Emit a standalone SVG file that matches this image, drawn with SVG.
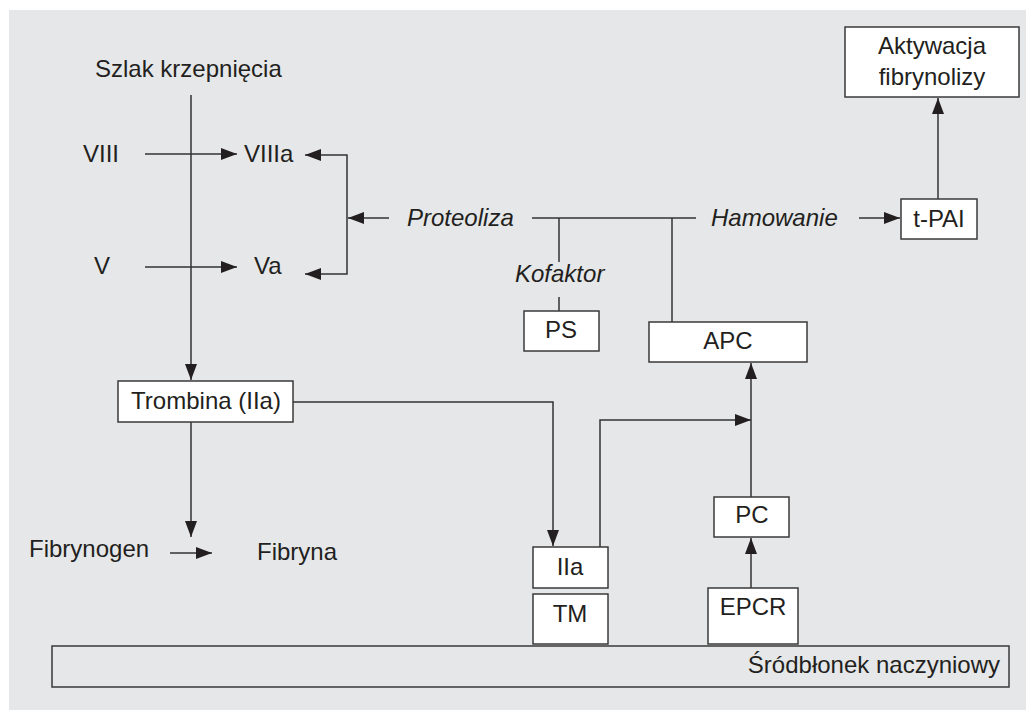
<svg xmlns="http://www.w3.org/2000/svg" width="1026" height="710" viewBox="0 0 1026 710">
<style>
text{font-family:"Liberation Sans",Arial,sans-serif;font-size:24px;fill:#231f20}
.it{font-style:italic}
.m{text-anchor:middle}
.box{fill:#ffffff;stroke:#3a3a3a;stroke-width:1.5}
.ln{fill:none;stroke:#333333;stroke-width:1.5}
.ar{marker-end:url(#ah)}
</style>
<defs>
<marker id="ah" markerUnits="userSpaceOnUse" markerWidth="16" markerHeight="12" refX="16" refY="6" orient="auto">
<path d="M0,0 L16,6 L0,12 Z" fill="#231f20"/>
</marker>
</defs>
<rect x="0" y="0" width="1026" height="710" fill="#ffffff"/>
<rect x="9" y="10" width="1017" height="700" fill="#e6e7e9"/>
<g id="connectors">
<line class="ln ar" x1="191" y1="95" x2="191" y2="380"/>
<line class="ln ar" x1="145" y1="154" x2="237" y2="154"/>
<line class="ln ar" x1="145" y1="267" x2="237" y2="267"/>
<polyline class="ln ar" points="347,218 347,155 305,155"/>
<polyline class="ln ar" points="347,218 347,274 305,274"/>
<line class="ln ar" x1="389" y1="218" x2="348" y2="218"/>
<line class="ln" x1="532" y1="218" x2="696" y2="218"/>
<line class="ln" x1="559" y1="218" x2="559" y2="262"/>
<line class="ln" x1="559" y1="297" x2="559" y2="311"/>
<line class="ln" x1="672" y1="218" x2="672" y2="322"/>
<line class="ln ar" x1="859" y1="218" x2="900" y2="218"/>
<line class="ln ar" x1="938" y1="199" x2="938" y2="98"/>
<polyline class="ln ar" points="293,402 553,402 553,546"/>
<polyline class="ln ar" points="600,547 600,420 751,420"/>
<line class="ln ar" x1="751" y1="497" x2="751" y2="363"/>
<line class="ln ar" x1="751" y1="588" x2="751" y2="538"/>
<line class="ln ar" x1="191" y1="422" x2="191" y2="537"/>
<line class="ln ar" x1="170" y1="553" x2="212" y2="553"/>
</g>
<g id="szlak"><text x="95" y="77">Szlak krzepnięcia</text></g>
<g id="viii"><text x="83" y="162">VIII</text></g>
<g id="viiia"><text x="244" y="162">VIIIa</text></g>
<g id="v"><text x="94" y="274">V</text></g>
<g id="va"><text x="254" y="274">Va</text></g>
<g id="proteoliza"><text class="it" x="407" y="226">Proteoliza</text></g>
<g id="hamowanie"><text class="it" x="711" y="226">Hamowanie</text></g>
<g id="kofaktor"><text class="it" x="515" y="282">Kofaktor</text></g>
<g id="aktywacja"><rect class="box" x="845" y="27" width="174" height="70"/><text class="m" x="932" y="54">Aktywacja</text><text class="m" x="932" y="85">fibrynolizy</text></g>
<g id="tpai"><rect class="box" x="901" y="199" width="76" height="40"/><text class="m" x="939" y="227">t-PAI</text></g>
<g id="ps"><rect class="box" x="524" y="311" width="75" height="40"/><text class="m" x="561" y="338">PS</text></g>
<g id="apc"><rect class="box" x="649" y="322" width="158" height="40"/><text class="m" x="728" y="349">APC</text></g>
<g id="trombina"><rect class="box" x="118" y="381" width="175" height="41"/><text class="m" x="206" y="409">Trombina (IIa)</text></g>
<g id="pc"><rect class="box" x="714" y="497" width="75" height="40"/><text class="m" x="752" y="523">PC</text></g>
<g id="iia"><rect class="box" x="533" y="547" width="75" height="41"/><text class="m" x="570" y="575">IIa</text></g>
<g id="tm"><rect class="box" x="533" y="594" width="75" height="50"/><text class="m" x="570" y="622">TM</text></g>
<g id="epcr"><rect class="box" x="708" y="588" width="90" height="56"/><text class="m" x="753" y="615">EPCR</text></g>
<g id="fibrynogen"><text x="29" y="557">Fibrynogen</text></g>
<g id="fibryna"><text x="257" y="560">Fibryna</text></g>
<g id="srodblonek"><rect x="52" y="646" width="957" height="41" fill="none" stroke="#3a3a3a" stroke-width="1.5"/><text x="1000" y="673" style="text-anchor:end">Śródbłonek naczyniowy</text></g>
</svg>
